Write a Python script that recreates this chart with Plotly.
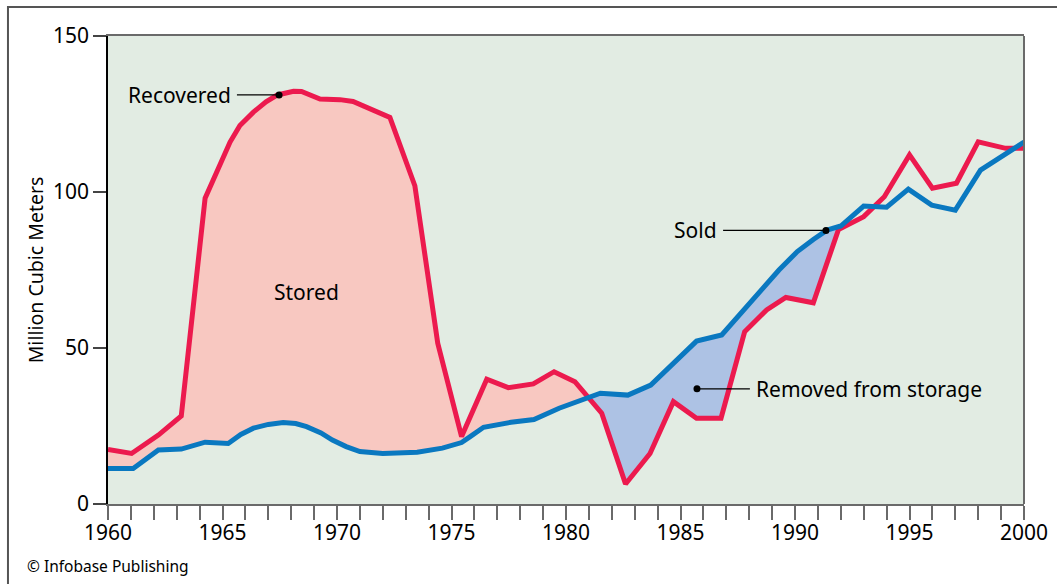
import numpy as np
import plotly.graph_objects as go

# Gas recovered from the ground (million cubic meters), by year position
recovered_year = [1960.0, 1961.03, 1962.2, 1963.2, 1964.24, 1965.33, 1965.76, 1966.35, 1966.9,
                  1967.4, 1968.1, 1968.45, 1969.26, 1970.13, 1970.7, 1972.31, 1973.4, 1974.4,
                  1975.44, 1976.54, 1977.48, 1978.57, 1979.48, 1980.39, 1981.56, 1982.6,
                  1983.67, 1984.69, 1985.7, 1986.77, 1987.8, 1988.76, 1989.6, 1990.8, 1991.9,
                  1993.0, 1993.9, 1995.0, 1996.0, 1997.05, 1998.0, 1999.2, 2000.0]
recovered = [17.5, 16.2, 22.1, 28.2, 98.0, 116.0, 121.3, 125.6, 128.9,
             131.1, 132.3, 132.2, 129.8, 129.6, 129.0, 123.9, 102.0, 51.5,
             21.6, 40.0, 37.3, 38.5, 42.4, 39.2, 29.1, 6.4,
             16.2, 32.8, 27.5, 27.5, 55.2, 62.2, 66.2, 64.5, 88.0,
             92.1, 98.5, 111.9, 101.2, 102.8, 116.1, 114.0, 114.0]

# Gas sold (million cubic meters), by year position
sold_year = [1960.0, 1961.1, 1962.2, 1963.2, 1964.24, 1965.25, 1965.8, 1966.35, 1967.0,
             1967.65, 1968.2, 1968.67, 1969.3, 1969.8, 1970.4, 1971.0, 1972.0, 1973.5,
             1974.6, 1975.44, 1975.8, 1976.4, 1977.6, 1978.6, 1979.7, 1980.6, 1981.5,
             1982.7, 1983.7, 1985.7, 1986.8, 1989.3, 1990.1, 1990.8, 1991.4, 1992.0,
             1993.0, 1994.0, 1994.95, 1995.97, 1997.0, 1998.1, 2000.0]
sold = [11.4, 11.4, 17.3, 17.6, 19.8, 19.4, 22.3, 24.3, 25.5,
        26.1, 25.8, 24.8, 22.8, 20.5, 18.4, 16.8, 16.2, 16.6,
        17.9, 19.7, 21.5, 24.6, 26.2, 27.1, 30.7, 33.0, 35.5,
        34.9, 38.1, 52.2, 54.2, 75.0, 80.9, 84.8, 87.8, 89.1,
        95.5, 95.1, 100.9, 95.8, 94.2, 107.0, 116.0]

x_ticks = [1960, 1965, 1970, 1975, 1980, 1985, 1990, 1995, 2000]
y_ticks = [0, 50, 100, 150]
removal_end = 1991.9

RED = "#ec1a4e"
BLUE = "#0a78c0"
PINK_FILL = "#f8c8c1"
BLUE_FILL = "#adc2e4"
PLOT_BG = "#e2ece3"
FONT = "Noto Sans"
LABEL_SIZE = 21

rx, ry = np.array(recovered_year), np.array(recovered)
sx, sy = np.array(sold_year), np.array(sold)

# first year where sales overtake recovery (start of withdrawals)
grid = np.linspace(1976, 1990, 14001)
diff = np.interp(grid, rx, ry) - np.interp(grid, sx, sy)
cross = grid[np.argmax(diff < 0)]


def segment(xs, ys, a, b):
    """Points of a polyline clipped to the span [a, b]."""
    inner = (xs > a) & (xs < b)
    px = [a] + list(xs[inner]) + [b]
    py = [np.interp(a, xs, ys)] + list(ys[inner]) + [np.interp(b, xs, ys)]
    return px, py


def band(a, b):
    ux, uy = segment(rx, ry, a, b)
    lx, ly = segment(sx, sy, a, b)
    return ux + lx[::-1], uy + ly[::-1]


fig = go.Figure()

stored_x, stored_y = band(1960.0, cross)
fig.add_trace(go.Scatter(x=stored_x, y=stored_y, fill="toself", fillcolor=PINK_FILL,
                         mode="none", hoverinfo="skip", showlegend=False))
removed_x, removed_y = band(cross, removal_end)
fig.add_trace(go.Scatter(x=removed_x, y=removed_y, fill="toself", fillcolor=BLUE_FILL,
                         mode="none", hoverinfo="skip", showlegend=False))

fig.add_trace(go.Scatter(x=recovered_year, y=recovered, mode="lines",
                         line=dict(color=RED, width=5), showlegend=False,
                         name="Recovered"))
fig.add_trace(go.Scatter(x=sold_year, y=sold, mode="lines",
                         line=dict(color=BLUE, width=5), showlegend=False,
                         name="Sold"))

# callout leaders: (label, text end year, dot year, value)
callouts = [
    ("Recovered", 1965.63, 1967.47, 131.1),
    ("Sold", 1986.86, 1991.35, 87.7),
]
for label, x_text, x_dot, val in callouts:
    fig.add_trace(go.Scatter(x=[x_text, x_dot], y=[val, val], mode="lines",
                             line=dict(color="black", width=1.3),
                             hoverinfo="skip", showlegend=False))
    fig.add_trace(go.Scatter(x=[x_dot], y=[val], mode="markers",
                             marker=dict(color="black", size=7),
                             hoverinfo="skip", showlegend=False))
    fig.add_annotation(x=x_text, y=val, text=label, showarrow=False,
                       xanchor="right", yanchor="middle", xshift=-4,
                       font=dict(size=LABEL_SIZE, color="black", family=FONT))

# removal callout points right from the dot
rem_dot, rem_end, rem_val = 1985.72, 1988.03, 36.9
fig.add_trace(go.Scatter(x=[rem_dot, rem_end], y=[rem_val, rem_val], mode="lines",
                         line=dict(color="black", width=1.3),
                         hoverinfo="skip", showlegend=False))
fig.add_trace(go.Scatter(x=[rem_dot], y=[rem_val], mode="markers",
                         marker=dict(color="black", size=7),
                         hoverinfo="skip", showlegend=False))
fig.add_annotation(x=rem_end, y=rem_val, text="Removed from storage", showarrow=False,
                   xanchor="left", yanchor="middle", xshift=4,
                   font=dict(size=LABEL_SIZE, color="black", family=FONT))

fig.add_annotation(x=1968.65, y=68, text="Stored", showarrow=False,
                   font=dict(size=LABEL_SIZE, color="black", family=FONT))

fig.add_annotation(x=-0.0906, y=-0.1325, xref="paper", yref="paper",
                   text="© Infobase Publishing", showarrow=False,
                   xanchor="left", yanchor="middle",
                   font=dict(size=15.5, color="black", family=FONT))

# outer frame and right edge of the plot area
fig.add_shape(type="rect", xref="paper", yref="paper",
              x0=-0.1092, x1=1.06, y0=-0.25, y1=1.062,
              line=dict(color="#555555", width=2), fillcolor="rgba(0,0,0,0)")
fig.add_shape(type="line", xref="paper", yref="paper", x0=1, x1=1, y0=0, y1=1,
              line=dict(color="#6a6a6a", width=2))

fig.update_layout(
    width=1057, height=584,
    margin=dict(l=108, r=33, t=36, b=80),
    paper_bgcolor="white", plot_bgcolor=PLOT_BG,
    font=dict(family=FONT, color="black"),
    xaxis=dict(range=[1960, 2000], tickvals=x_ticks, ticks="outside", ticklen=14,
               tickwidth=2, tickcolor="#6a6a6a", showgrid=False, zeroline=False,
               showline=True, linecolor="#6a6a6a", linewidth=2, mirror=True,
               tickfont=dict(size=21, family=FONT), ticklabelstandoff=-5,
               automargin=False,
               minor=dict(dtick=1, tick0=1960, ticks="outside", ticklen=14,
                          tickwidth=2, tickcolor="#6a6a6a", showgrid=False)),
    yaxis=dict(range=[0, 150], tickvals=y_ticks, ticks="outside", ticklen=13,
               tickwidth=1.5, tickcolor="#444444", showgrid=False, zeroline=False,
               showline=True, linecolor="black", linewidth=1.5, automargin=False,
               tickfont=dict(size=21, family=FONT),
               title=dict(text="Million Cubic Meters", standoff=4,
                          font=dict(size=19.5, family=FONT))),
)

fig.write_html("out.html")
